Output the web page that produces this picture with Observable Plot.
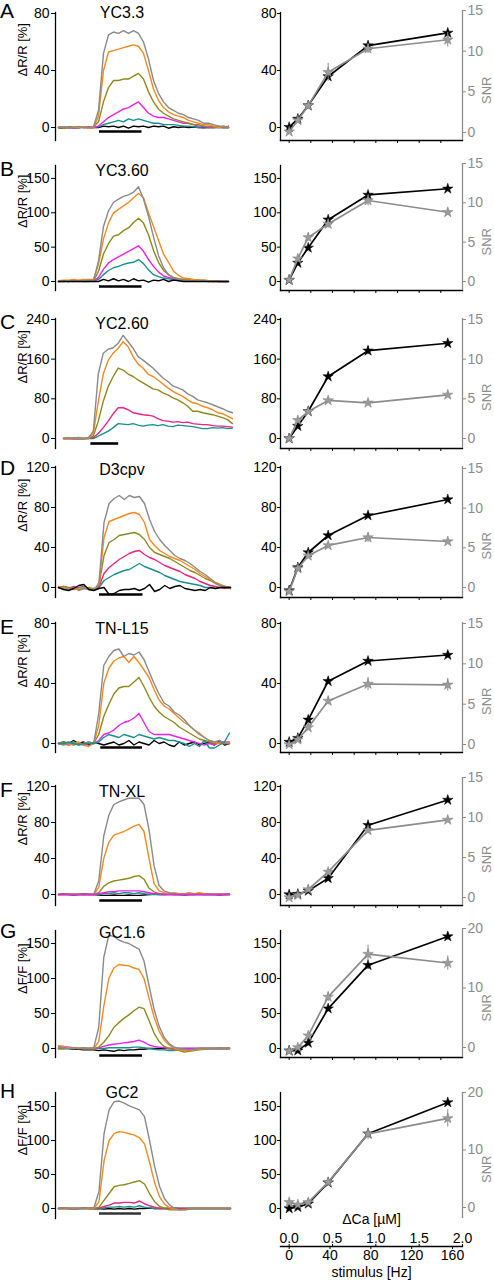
<!DOCTYPE html>
<html><head><meta charset="utf-8">
<script src="https://cdn.jsdelivr.net/npm/d3@7"></script>
<script src="https://cdn.jsdelivr.net/npm/@observablehq/plot@0.6"></script>
<style>
body{margin:0;background:#fff;}
#root{position:relative;width:494px;height:1280px;overflow:hidden;background:#fff;}
</style></head><body><div id="root"></div>
<script>
// ---------- data ----------
const indicators = ["YC3.3","YC3.60","YC2.60","D3cpv","TN-L15","TN-XL","GC1.6","GC2"];
const panelLetters = ["A","B","C","D","E","F","G","H"];
const yLabels = ["ΔR/R [%]","ΔR/R [%]","ΔR/R [%]","ΔR/R [%]","ΔR/R [%]","ΔR/R [%]","ΔF/F [%]","ΔF/F [%]"];

// stimulus frequencies and their ΔCa equivalent (x position in right panels)
const stimulusHz = [1, 10, 20, 40, 80, 160];
const deltaCaUM = [0.0, 0.10, 0.22, 0.45, 0.91, 1.83];
const caTicks = [0, 0.25, 0.5, 0.75, 1.0, 1.25, 1.5, 1.75];
const caLabels = [0, 0.5, 1.0, 1.5, 2.0];
const hzLabels = [0, 40, 80, 120, 160];

// stimulus timing in sample units (left panels)
const stimOn  = [8.2, 8.2, 5.5, 8.1, 8.4, 8.2, 8.2, 8.1];
const stimOff = [16.7, 16.7, 11.1, 16.7, 16.7, 16.7, 16.7, 16.4];

// y tick values
const A_ticks=[0,40,80], B_ticks=[0,50,100,150], C_ticks=[0,80,160,240], D_ticks=[0,40,80,120];
const E_ticks=[0,40,80], F_ticks=[0,40,80,120], G_ticks=[0,50,100,150], H_ticks=[0,50,100,150];
const snrTicks15=[0,5,10,15], snrTicks20=[0,10,20];

// ---- time traces (sample index 0..34) ----
const A_gray   =[0,0.5,-0.5,0,0.8,-0.3,0.2,0.5,12,52,65,67,66,68,66,68,66,60,48,33,24,18,14,12,10,9,7,6,5,3,3,2,1,1,0];
const A_orange =[0.5,0,-0.5,0.3,0,0.5,-0.5,0,8,40,53,54,55,56,57,58,57,52,40,27,19,14,11,9,8,7,5,4,3,2,2,1,0,1,0];
const A_olive  =[0,-0.5,0.5,0,-0.3,0.5,0,0.3,4,18,28,33,33,34,34,36,38,34,25,18,13,10,8,6,5,4,3,2,2,1,1,0,0.5,0,0];
const A_magenta=[0,0.5,0,-0.5,0.3,0,0.5,0,1,4,7,9,11,13,14,16,18,14,10,8,7,7,6,5,4,3,3,2,1,1,0,0.5,1,0,1];
const A_teal   =[0,0.3,-0.3,0,0.2,0,-0.2,0,0.5,2,3,4,5,4,6,5,6,5,4,3,3,2,2,2,1.5,1,1,0.5,0,0.5,0,0,0.5,0,0];
const A_black  =[0,-0.5,0.3,0,-0.3,0.4,-0.2,0,0,1,0.5,1,0,1,-0.5,1,0.5,1,0,1,0.5,1,-0.5,0.5,0,0.5,0,0.3,0,-0.3,0,0.2,0,0,0];

const B_gray   =[0,1,0,1,0.5,1,2,1,30,80,103,115,120,124,126,130,138,120,95,65,38,20,10,5,3,2,1,1,0,1,0,0.5,0,0,0];
const B_orange =[1,2,2,3,2,3,3,3,25,62,85,100,105,110,115,122,128,122,100,80,60,40,28,15,9,5,4,3,2,2,1,1,0,0,0];
const B_olive  =[0,1,0,0.5,1,0,1,0.5,15,40,55,66,68,74,78,86,92,85,68,45,28,16,10,6,4,3,3,2,2,1,0,0,0.5,0,0];
const B_magenta=[0,0.5,0,1,0,0.5,1,0,6,18,27,32,36,40,44,48,52,44,32,22,14,8,6,4,3,3,2,2,2,1,1,1,0,0,0];
const B_teal   =[0,0,0.5,0,0.5,0,0,0.5,3,10,16,20,22,25,27,28,32,26,17,10,7,5,4,3,3,2,4,2,1,2,1,0,0,0,0];
const B_black  =[0,0,0,0,0,0,0,0,0,3,1,4,1,3,0,4,1,2,-1,2,1,3,0,2,1,0,0,0,0,0,0,0,0,0,0];

const C_gray   =[0,1,0,2,0,1,15,130,172,180,183,192,208,195,182,165,158,150,142,132,122,115,106,102,98,90,85,78,75,72,68,64,60,55,52];
const C_orange =[0,-1,0,1,0,0,10,75,130,158,172,182,195,185,165,150,142,130,125,118,110,102,95,90,85,78,72,70,65,62,58,52,50,45,40];
const C_olive  =[0,0,1,0,-1,0,5,35,75,105,125,142,138,130,125,118,112,106,100,98,92,88,82,78,72,65,55,55,52,50,48,45,42,38,30];
const C_pink   =[0,0,-1,0,0,1,2,10,22,35,50,62,62,58,52,50,48,47,45,40,36,35,33,34,32,33,30,29,28,28,26,25,25,24,23];
const C_teal   =[0,0,0,-1,0,0,0,5,10,15,22,30,29,28,30,27,25,27,28,26,28,25,24,27,26,25,24,22,20,20,22,21,22,20,21];

const D_gray   =[0,-1,-2,0,-3,-1,-2,-3,5,65,84,89,92,88,92,90,91,84,68,56,48,42,37,32,29,27,24,20,16,13,9,5,2,1,0];
const D_orange =[1,0,-1,-2,-1,0,-2,-2,3,50,66,68,70,72,74,75,73,65,48,42,37,34,31,29,27,24,21,18,14,11,8,5,3,1,0];
const D_olive  =[0,1,-1,0,-2,-1,0,-2,2,32,45,48,52,53,54,55,53,48,40,35,33,31,29,26,23,20,17,15,12,9,7,4,2,0,-1];
const D_pink   =[0,0,-1,1,-1,0,-1,-2,1,14,20,24,28,31,34,36,37,33,30,28,25,22,20,18,16,13,11,9,6,4,2,1,0,-1,0];
const D_teal   =[0,1,0,-1,0,1,-1,-1,0,7,10,13,15,17,18,21,24,21,19,17,15,12,10,8,6,5,4,3,2,0,0,-1,0,0,-1];
const D_black  =[0,-2,-3,-1,2,3,-2,-3,-1,0,-7,-6,-3,-2,-2,-1,-3,-1,3,-4,-2,2,-1,1,2,-1,-2,-3,-2,-3,0,-1,0,0,0];

const E_gray   =[0,-1,0,1,-1,0,1,0,20,52,58,62,63,58,60,59,61,56,48,40,33,27,25,21,19,16,12,9,6,4,2,1,2,0,0];
const E_orange =[0,0,-1,0,1,-1,-2,0,12,40,50,55,57,58,54,58,54,49,44,36,29,25,23,20,17,14,12,9,7,4,2,1,0,0,1];
const E_olive  =[0,1,0,-1,0,0,1,0,6,18,26,33,37,38,38,41,44,38,31,25,21,18,16,14,11,9,7,5,3,2,1,0,0,0,0];
const E_magenta=[0,0,-1,0,0,-1,0,0,2,6,7,9,12,14,15,17,20,14,8,6,6,6,6,5,4,3,2,1,0,-1,0,-1,1,1,1];
const E_teal   =[0,0,1,0,-1,0,0,0,1,4,6,5,4,6,5,4,6,5,4,3,4,3,2,2,1,0,-2,0,-2,2,-3,-3,-1,1,7];
const E_black  =[0,1,0,2,0,1,-1,1,0,-1,0,1,-1,0,2,-1,1,0,-1,2,0,1,-1,-2,1,-1,0,1,-1,0,1,-1,2,-1,0];

const F_gray   =[0,0,0.5,0,0,-0.5,0,0,15,65,88,100,103,105,107,107,107,100,72,32,10,4,2,1,0,0,0.5,0,0,0,0.5,0,0,0,0];
const F_orange =[0,0,0,0.5,0,0,0,0,8,40,58,66,68,70,73,76,78,70,40,12,4,2,1,2,1,1,2,1,2,1,1,0,1,0,0];
const F_olive  =[0,0,0,0,0,0,0,0,2,9,13,15,16,17,18,20,21,17,7,3,1,0,0,0,0,0,0,0,0,0,0,0,0,0,0];
const F_magenta=[0,0,0,0,0,0,0,0,1,2,3,3,4,4,4,4,4,3,2,1,1,0,0,0,0,0,0,0,0,0,0,0,0,0,0.5];
const F_teal   =[0,0,0,0,0,0,0,0,0,1,1,2,1,2,2,1,2,1,0,0,0,0,0,0,0,0,0,0,0,0,0,0,0,0,0];
const F_black  =[0,0.5,0,-0.5,0,0.5,0,0,-0.5,-1,-1,-0.5,-1,-1,-0.5,-1,-1,-0.5,0,0.5,0,0,0.5,0,0,-0.5,0,0,0.5,0,0,0,-0.5,0,0];

const G_gray   =[2,1,0,1,0,1,0,1,30,130,162,160,155,152,150,146,142,125,90,56,32,16,7,2,0,-1,-2,-1,0,0,0,0,1,0,1];
const G_orange =[4,3,1,0,1,0,0,0,10,60,100,115,120,119,118,115,113,100,72,45,25,12,5,1,-2,-3,-3,-2,-1,0,0,0,1,0,1];
const G_olive  =[0,0,1,0,0,0,0,0,2,9,18,30,37,43,48,54,59,57,40,22,10,3,0,-2,-3,-5,-4,-3,-2,-1,0,0,0,0,0];
const G_magenta=[3,3,2,1,0,0,0,0,1,3,5,6,7,8,9,10,12,9,5,3,2,1,0,0,0,0,0,0,0,0,0,0,0,0,0];
const G_teal   =[0,0,0,0,0,0,0,0,0,0,1,1,1,1,1,2,2,1,0,-1,-2,-2,-3,-3,-2,-2,-1,-1,0,0,0,0,0,0,0];
const G_black  =[0,0,0,-1,-1,-2,-2,-2,-3,-2,-3,-4,-2,-3,-2,-2,-1,-1,0,0,0,0,0,0,0,0,0,0,0,0,0,0,0,0,0];

const H_gray   =[0,1,0,1,0,0,1,1,25,110,145,157,158,155,151,148,145,135,100,62,32,14,5,0,-2,-2,-1,0,0,0,0,0,0,0,0];
const H_orange =[0,-1,0,0,1,0,0,0,10,70,100,110,113,112,110,108,104,95,68,38,17,6,1,-1,-2,-2,-1,0,0,0,0,0,0,0,1];
const H_olive  =[0,0,0,0,0,0,0,0,2,12,22,32,34,35,37,39,41,36,22,10,3,0,-2,-2,-2,-1,0,0,0,0,0,0,0,0,0];
const H_pink   =[0,0,0,0,0,0,0,0,1,3,5,8,8,9,9,8,11,7,4,2,0,0,0,0,0,0,0,0,0,0,0,0,0,0,0];
const H_teal   =[0,0,0,0,0,0,0,0,0,1,2,2,3,2,3,2,4,2,1,0,0,0,0,0,0,0,0,0,0,0,0,0,0,0,0];
const H_black  =[0,0.5,0,-0.5,0,0.5,0,-0.5,0,-1,0,-1,0,-1,0,-1,0,0,0.5,0,0,0,0,0.5,0,0,0,0,0,0,0,0,0,0,0];

// ---- dose–response (ΔR/R or ΔF/F, and SNR) ----
const A_dRR=[0.2,6,15.4,35.8,57.5,66.4], A_dRRerr=[1,1,2,2,2,2], A_snr=[0.1,1.5,3.3,7.4,10.3,11.4], A_snrErr=[0.2,0.3,0.5,1.1,0.6,0.9];
const B_dRR=[2,27,49,90,126,135],        B_dRRerr=[1,2,2,3,3,3], B_snr=[0.2,2.9,5.6,7.3,10.3,8.8],  B_snrErr=[0.2,0.4,0.5,0.5,0.7,0.4];
const C_dRR=[0,25,55,125,177,192],       C_dRRerr=[1,3,4,5,8,6], C_snr=[0,2.3,3.4,4.8,4.5,5.5],    C_snrErr=[0.1,0.3,0.3,0.3,0.3,0.3];
const D_dRR=[-3,20,35,52,72,88],         D_dRRerr=[1,2,2,2,2,2], D_snr=[-0.5,2.4,4.0,5.3,6.3,5.8], D_snrErr=[0.2,0.3,0.3,0.3,0.6,0.3];
const E_dRR=[1,3.6,15.8,41.5,55,59],     E_dRRerr=[1,1,2,2,2,2], E_snr=[0,0.6,2.1,5.4,7.5,7.4],    E_snrErr=[0.2,0.2,0.3,0.5,0.8,0.8];
const F_dRR=[0,0.5,4,18,77,105],         F_dRRerr=[1,1,1,2,3,3], F_snr=[0,0.3,1.0,3.2,8.4,9.7],    F_snrErr=[0.2,0.2,0.3,0.4,0.4,0.3];
const G_dRR=[-3,-3,8,57,119,160],        G_dRRerr=[1,2,3,4,6,5], G_snr=[-0.6,0,2.0,8.5,15.7,14.2], G_snrErr=[0.3,0.3,0.5,0.8,1.5,1.2];
const H_dRR=[0,2,7,38,110,156],          H_dRRerr=[1,2,2,3,5,4], H_snr=[0.9,0.5,0.9,4.4,12.8,15.5], H_snrErr=[0.3,0.3,0.4,0.5,1.0,1.5];

// ---------- styles & layout ----------
const traceColors = {gray:"#8a8a8a", orange:"#f6891f", olive:"#8c8a1c", magenta:"#f01ff0", pink:"#ec2380", teal:"#18908f", black:"#000000"};
const snrGray = "#8c8c8c", snrStar = "#9c9c9c", snrStarEdge = "#7a7a7a";
const FONT = '"Liberation Sans", Arial, Helvetica, sans-serif';
const baseStyle = {fontFamily: FONT, fontSize: "14px", background: "transparent", overflow: "visible", color: "#000"};

// absolute pixel layout per row: zero line, axis top/bottom, px per unit, SNR anchors, bar offset, title baseline
const layouts = [
  {zero:127,  top:12,   bottom:140,  ppu:1.425, snrTopPx:10,   snrZeroPx:132,  barDy:4, xr:[58,228], base:18},
  {zero:281,  top:165,  bottom:290,  ppu:0.687, snrTopPx:163,  snrZeroPx:281,  barDy:5, xr:[58,228], base:176},
  {zero:438,  top:318,  bottom:448,  ppu:0.496, snrTopPx:319,  snrZeroPx:438,  barDy:5, xr:[63,232], base:329},
  {zero:587,  top:466,  bottom:597,  ppu:1.0,   snrTopPx:468,  snrZeroPx:587,  barDy:7, xr:[58,230], base:475},
  {zero:743,  top:622,  bottom:752,  ppu:1.5,   snrTopPx:623,  snrZeroPx:744,  barDy:4, xr:[58,229], base:634},
  {zero:894,  top:785,  bottom:905,  ppu:0.9,   snrTopPx:777,  snrZeroPx:897,  barDy:6, xr:[58,229], base:797},
  {zero:1048, top:930,  bottom:1057, ppu:0.7,   snrTopPx:928,  snrZeroPx:1047, barDy:7, xr:[58,229], base:938},
  {zero:1208, top:1092, bottom:1218, ppu:0.68,  snrTopPx:1092, snrZeroPx:1207, barDy:5, xr:[58,230], base:1098, last:true}
];

const panels = [
  {traces:[["black",A_black],["teal",A_teal],["magenta",A_magenta],["olive",A_olive],["orange",A_orange],["gray",A_gray]], ticks:A_ticks, snrTicks:snrTicks15, dRR:A_dRR, dRRerr:A_dRRerr, snr:A_snr, snrErr:A_snrErr},
  {traces:[["teal",B_teal],["magenta",B_magenta],["olive",B_olive],["orange",B_orange],["gray",B_gray],["black",B_black]], ticks:B_ticks, snrTicks:snrTicks15, dRR:B_dRR, dRRerr:B_dRRerr, snr:B_snr, snrErr:B_snrErr},
  {traces:[["teal",C_teal],["pink",C_pink],["olive",C_olive],["orange",C_orange],["gray",C_gray]], ticks:C_ticks, snrTicks:snrTicks15, dRR:C_dRR, dRRerr:C_dRRerr, snr:C_snr, snrErr:C_snrErr},
  {traces:[["teal",D_teal],["pink",D_pink],["olive",D_olive],["orange",D_orange],["gray",D_gray],["black",D_black]], ticks:D_ticks, snrTicks:snrTicks15, dRR:D_dRR, dRRerr:D_dRRerr, snr:D_snr, snrErr:D_snrErr},
  {traces:[["black",E_black],["magenta",E_magenta],["olive",E_olive],["orange",E_orange],["gray",E_gray],["teal",E_teal]], ticks:E_ticks, snrTicks:snrTicks15, dRR:E_dRR, dRRerr:E_dRRerr, snr:E_snr, snrErr:E_snrErr},
  {traces:[["black",F_black],["teal",F_teal],["olive",F_olive],["orange",F_orange],["gray",F_gray],["magenta",F_magenta]], ticks:F_ticks, snrTicks:snrTicks15, dRR:F_dRR, dRRerr:F_dRRerr, snr:F_snr, snrErr:F_snrErr},
  {traces:[["black",G_black],["teal",G_teal],["magenta",G_magenta],["olive",G_olive],["orange",G_orange],["gray",G_gray]], ticks:G_ticks, snrTicks:snrTicks20, dRR:G_dRR, dRRerr:G_dRRerr, snr:G_snr, snrErr:G_snrErr},
  {traces:[["black",H_black],["teal",H_teal],["pink",H_pink],["olive",H_olive],["orange",H_orange],["gray",H_gray]], ticks:H_ticks, snrTicks:snrTicks20, dRR:H_dRR, dRRerr:H_dRRerr, snr:H_snr, snrErr:H_snrErr}
];

const root = document.getElementById("root");
function place(el, left, top) {
  el.style.position = "absolute"; el.style.left = left + "px"; el.style.top = top + "px";
  el.style.maxWidth = "none";
  root.appendChild(el);
}

const PAD = 14;
const caDomain = [-0.1, 2.0];
panels.forEach((p, k) => {
  const L = layouts[k];
  const hi = (L.zero - L.top) / L.ppu, lo = -(L.bottom - L.zero) / L.ppu;
  const height = L.bottom - L.top + 2 * PAD;

  // ----- left: time traces -----
  const leftMarks = [
    Plot.frame({anchor: "left", stroke: "#000", strokeWidth: 1.3}),
    Plot.axisY(p.ticks, {anchor: "left", tickSize: 4, tickPadding: 2, label: null}),
    ...p.traces.map(([c, arr]) => Plot.line(arr, {x: (d, i) => i, y: d => d, stroke: traceColors[c], strokeWidth: 1.4})),
    Plot.ruleY([{on: stimOn[k], off: stimOff[k]}], {y: () => 0, x1: "on", x2: "off", dy: L.barDy, stroke: k === 7 ? "#333" : "#000", strokeWidth: 2.6}),
    Plot.text([yLabels[k]], {text: d => d, frameAnchor: "left", dx: -33, rotate: -90, fontSize: 13})
  ];
  const left = Plot.plot({
    width: 247, height, marginTop: PAD, marginBottom: PAD, marginLeft: 55, marginRight: 10,
    x: {domain: [0, 34], range: L.xr, axis: null},
    y: {domain: [lo, hi]},
    style: baseStyle, marks: leftMarks
  });
  place(left, 0, L.top - PAD);

  // ----- right: dose response with SNR on a second axis -----
  const snrMax = p.snrTicks[p.snrTicks.length - 1];
  const snrPx = (L.snrZeroPx - L.snrTopPx) / snrMax;
  const toLeft = s => (L.zero - L.snrZeroPx + s * snrPx) / L.ppu;
  const fromLeft = v => (v * L.ppu - (L.zero - L.snrZeroPx)) / snrPx;
  const rows = stimulusHz.map((hz, i) => ({
    hz, ca: deltaCaUM[i],
    d: p.dRR[i], d1: p.dRR[i] - p.dRRerr[i], d2: p.dRR[i] + p.dRRerr[i],
    s: toLeft(p.snr[i]), s1: toLeft(p.snr[i] - p.snrErr[i]), s2: toLeft(p.snr[i] + p.snrErr[i])
  }));
  const rightMarks = [
    Plot.frame({anchor: "left", stroke: "#000", strokeWidth: 1.3}),
    L.last ? null : Plot.frame({anchor: "bottom", stroke: "#000", strokeWidth: 1.3}),
    // gray SNR axis line, from its top tick to the bottom of the panel
    Plot.ruleX([caDomain[1]], {y1: Math.max(toLeft(snrMax), hi), y2: lo, stroke: snrGray, strokeWidth: 1.3}),
    Plot.axisY(p.ticks, {anchor: "left", tickSize: 3, tickPadding: 1, label: null}),
    Plot.axisY(p.snrTicks.map(toLeft), {anchor: "right", tickSize: 3, tickPadding: 2, label: null, color: snrGray,
      tickFormat: v => String(Math.round(fromLeft(v)))}),
    L.last ? null : Plot.axisX(caTicks, {anchor: "bottom", tickSize: 3, tickFormat: () => "", label: null}),
    Plot.line(rows, {x: "ca", y: "d", stroke: "#000", strokeWidth: 1.7}),
    Plot.ruleX(rows, {x: "ca", y1: "d1", y2: "d2", stroke: "#000", strokeWidth: 1}),
    Plot.dot(rows, {x: "ca", y: "d", symbol: "star", r: 3.3, fill: "#000", stroke: "#000", strokeWidth: 0.5}),
    Plot.line(rows, {x: "ca", y: "s", stroke: snrGray, strokeWidth: 1.7}),
    Plot.ruleX(rows, {x: "ca", y1: "s1", y2: "s2", stroke: snrGray, strokeWidth: 1}),
    Plot.dot(rows, {x: "ca", y: "s", symbol: "star", r: 3.3, fill: snrStar, stroke: snrStarEdge, strokeWidth: 0.5}),
    Plot.text(["SNR"], {text: d => d, frameAnchor: "right", dx: 24, rotate: -90, fill: snrGray, fontSize: 13})
  ].filter(m => m != null);
  const right = Plot.plot({
    width: 247, height, marginTop: PAD, marginBottom: PAD, marginLeft: 33, marginRight: 32,
    x: L.last ? {domain: caDomain, axis: null} : {domain: caDomain},
    y: {domain: [lo, hi]},
    style: baseStyle, marks: rightMarks
  });
  place(right, 247, L.top - PAD);
});

// ----- bottom dual axis: ΔCa [µM] above, stimulus [Hz] below -----
const caAxis = Plot.plot({
  width: 247, height: 50, marginTop: 46, marginBottom: 4, marginLeft: 33, marginRight: 32,
  x: {domain: caDomain},
  style: baseStyle,
  marks: [
    Plot.frame({anchor: "top", stroke: "#000", strokeWidth: 1.3}),
    Plot.axisX(caLabels, {anchor: "top", tickSize: 3, tickPadding: 1, tickFormat: d3.format(".1f"), label: null}),
    Plot.text(["ΔCa [µM]"], {text: d => d, frameAnchor: "top", dy: -32})
  ]
});
place(caAxis, 247, 1200);

const hzAxis = Plot.plot({
  width: 247, height: 40, marginTop: 0, marginBottom: 34, marginLeft: 33, marginRight: 32,
  x: {domain: [0, 160], range: [41.7, 205]},
  style: baseStyle,
  marks: [
    Plot.axisX(hzLabels, {anchor: "bottom", tickSize: 3, tickPadding: 1, label: null}),
    Plot.text(["stimulus [Hz]"], {text: d => d, frameAnchor: "bottom", dy: 30})
  ]
});
place(hzAxis, 247, 1240);

// ----- panel letters and indicator names -----
const overlay = d3.create("svg").attr("width", 494).attr("height", 1280)
  .style("position", "absolute").style("left", "0px").style("top", "0px").style("pointer-events", "none")
  .style("font-family", FONT);
layouts.forEach((L, k) => {
  overlay.append("text").attr("x", 0).attr("y", L.base).attr("font-size", 21).attr("fill", "#000").text(panelLetters[k]);
  overlay.append("text").attr("x", 122).attr("y", L.base).attr("font-size", 16).attr("text-anchor", "middle").attr("fill", "#000").text(indicators[k]);
});
root.appendChild(overlay.node());
</script>
</body></html>
